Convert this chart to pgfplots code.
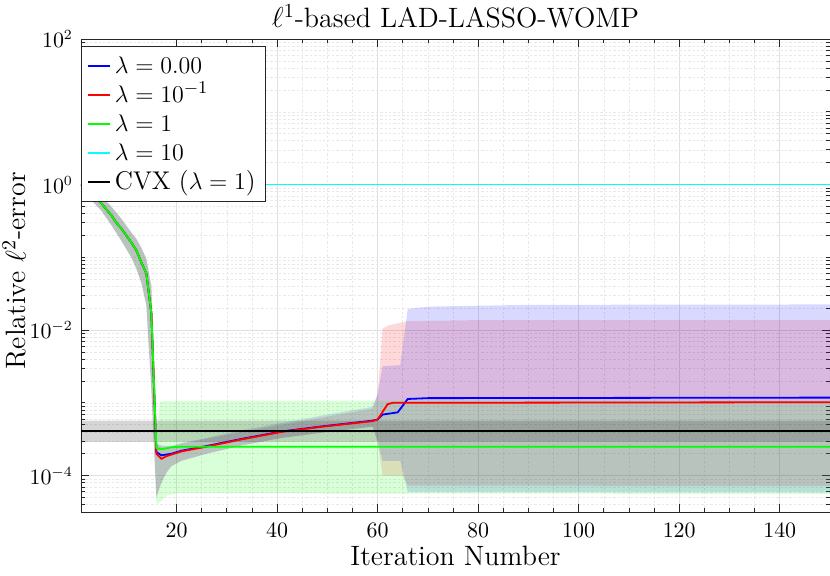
\documentclass[border=0pt]{standalone}
\usepackage{pgfplots}
\pgfplotsset{compat=1.18}
\definecolor{myblue}{rgb}{0,0,1}
\definecolor{myred}{rgb}{1,0,0}
\definecolor{mygreen}{rgb}{0,1,0}
\definecolor{mycyan}{rgb}{0,1,1}
\definecolor{myblack}{rgb}{0,0,0}
\definecolor{axgray}{rgb}{0.15,0.15,0.15}
\begin{document}
\begin{tikzpicture}
\path[use as bounding box] (-40.5pt,-32pt) rectangle (374.5pt,256pt);
\begin{axis}[
  scale only axis, width=374.5pt, height=236.5pt,
  at={(0,0)}, anchor=south west,
  ymode=log, xmin=1, xmax=150, ymin=3.162e-5, ymax=100,
  xtick={20,40,...,140}, minor x tick num=3,
  ytick={1e-4,1e-2,1,100},
  minor ytick={4e-5,5e-5,6e-5,7e-5,8e-5,9e-5,2e-4,3e-4,4e-4,5e-4,6e-4,7e-4,8e-4,9e-4,1e-3,2e-3,3e-3,4e-3,5e-3,6e-3,7e-3,8e-3,9e-3,2e-2,3e-2,4e-2,5e-2,6e-2,7e-2,8e-2,9e-2,0.1,0.2,0.3,0.4,0.5,0.6,0.7,0.8,0.9,2,3,4,5,6,7,8,9,10,20,30,40,50,60,70,80,90},
  grid=both,
  major grid style={black!12, line width=0.3pt},
  minor grid style={black!9, dash pattern=on 1.2pt off 1pt, line width=0.25pt},
  tick align=inside, major tick length=3.8pt, minor tick length=2pt,
  tick style={axgray, line width=0.35pt},
  axis line style={axgray, line width=0.4pt},
  xticklabel style={font=\fontsize{10.5}{12}\selectfont, anchor=base, yshift=-13pt},
  yticklabel style={font=\fontsize{10.5}{12}\selectfont, xshift=-0.5pt},
  title={$\ell^1$-based LAD-LASSO-WOMP},
  title style={at={(axis description cs:0.5,1.0233)}, anchor=base, yshift=-6pt, font=\fontsize{14}{16}\selectfont},
  xlabel={Iteration Number},
  xlabel style={at={(axis description cs:0.5,-0.114)}, anchor=base, font=\fontsize{14}{16}\selectfont},
  ylabel={Relative $\ell^2$-error},
  ylabel style={at={(axis description cs:-0.0735,0.51)}, anchor=base, font=\fontsize{14}{16}\selectfont},
  legend style={at={(axis description cs:0,0.985)}, anchor=north west, draw=axgray, fill=white,
    font=\fontsize{12.8}{14}\selectfont, inner xsep=3pt, inner ysep=2.5pt, row sep=0pt},
  legend cell align=left,
  legend image code/.code={\draw[line width=0.8pt,#1] (0pt,0pt) -- (11pt,0pt);},
  /tikz/every odd column/.append style={text height=9pt, text depth=3.3pt},
  /tikz/every even column/.append style={text height=9pt, text depth=3.3pt, inner sep=1.3pt},
]
% ---- legend images ----
\addlegendimage{draw=myblue}
\addlegendentry{$\lambda = 0.00$}
\addlegendimage{draw=myred}
\addlegendentry{$\lambda = 10^{-1}$}
\addlegendimage{draw=mygreen}
\addlegendentry{$\lambda = 1$}
\addlegendimage{draw=mycyan}
\addlegendentry{$\lambda = 10$}
\addlegendimage{draw=myblack}
\addlegendentry{CVX ($\lambda = 1$)}
% ---- bands ----
% red band (lambda = 0.1)
\addplot[draw=none, fill=myred, fill opacity=0.15, forget plot] coordinates {
(1,1.02) (3,0.85) (5,0.70) (7,0.50) (9,0.34) (11,0.22) (12,0.18) (13,0.135) (14,0.095) (15,0.04)
(16,2.7e-4) (17,2.5e-4) (19,2.5e-4) (21,2.75e-4) (26,3.2e-4) (33,4.0e-4) (41,5.0e-4) (49,6.3e-4) (59,8.3e-4)
(60,1.3e-3) (61,0.0105) (62,0.0115) (66,0.0133) (80,0.0137) (150,0.0138)
(150,7.2e-5) (66,7.3e-5) (65,1.0e-4) (61,1.0e-4) (60,3.0e-4) (59,4.7e-4) (49,3.9e-4) (41,3.3e-4) (33,2.6e-4)
(26,2.0e-4) (21,1.6e-4) (19,1.35e-4) (18,1.1e-4) (17,8e-5) (16,5e-5)
(15,0.0015) (14,0.022) (13,0.045) (12,0.07) (11,0.10) (9,0.17) (7,0.28) (5,0.44) (3,0.62) (1,0.97) (1,1.02)};
% blue band (lambda = 0)
\addplot[draw=none, fill=myblue, fill opacity=0.15, forget plot] coordinates {
(1,1.02) (3,0.85) (5,0.70) (7,0.50) (9,0.34) (11,0.22) (12,0.18) (13,0.135) (14,0.095) (15,0.04)
(16,2.8e-4) (17,2.6e-4) (19,2.55e-4) (21,2.8e-4) (26,3.3e-4) (33,4.2e-4) (41,5.3e-4) (49,6.7e-4) (59,8.8e-4)
(60,1.3e-3) (61,3.2e-3) (64.5,3.3e-3) (66,0.0195) (70,0.021) (90,0.0222) (150,0.0225)
(150,5.9e-5) (66,6.0e-5) (64.5,1.6e-4) (61,1.6e-4) (60,3.0e-4) (59,4.7e-4) (49,3.9e-4) (41,3.3e-4) (33,2.6e-4)
(26,2.0e-4) (21,1.6e-4) (19,1.35e-4) (18,1.1e-4) (17,8e-5) (16,5e-5)
(15,0.0015) (14,0.022) (13,0.045) (12,0.07) (11,0.10) (9,0.17) (7,0.28) (5,0.44) (3,0.62) (1,0.97) (1,1.02)};
% green band (lambda = 1)
\addplot[draw=none, fill=mygreen, fill opacity=0.15, forget plot] coordinates {
(1,1.02) (3,0.85) (5,0.70) (7,0.50) (9,0.34) (11,0.22) (12,0.18) (13,0.135) (14,0.095) (15,0.04)
(16,3.0e-4) (16.7,1.05e-3) (20,1.07e-3) (150,1.07e-3)
(150,5.6e-5) (20,5.7e-5) (18,5.3e-5) (17,4.5e-5) (16,4e-5)
(15,0.0015) (14,0.022) (13,0.045) (12,0.07) (11,0.10) (9,0.17) (7,0.28) (5,0.44) (3,0.62) (1,0.97) (1,1.02)};
% CVX band
\addplot[draw=none, fill=myblack, fill opacity=0.16, forget plot] coordinates {
(1,5.7e-4) (150,5.7e-4) (150,2.9e-4) (1,2.9e-4) (1,5.7e-4)};
% ---- lines ----
\addplot[draw=myblue, line width=0.9pt, forget plot] coordinates {
(1,1.0) (2,0.83) (3,0.74) (4,0.67) (5,0.56) (6,0.46) (7,0.38) (8,0.30) (9,0.25) (10,0.20) (11,0.16) (12,0.125) (13,0.085) (14,0.060) (15,0.017)
(16,2.1e-4) (17,1.9e-4) (19,2.0e-4) (21,2.2e-4) (26,2.55e-4) (33,3.2e-4) (41,4.05e-4) (49,4.75e-4) (59,5.7e-4) (60,5.9e-4) (61,6.9e-4) (64,7.4e-4) (66,1.13e-3) (70,1.16e-3) (150,1.18e-3)};
\addplot[draw=myred, line width=0.9pt, forget plot] coordinates {
(1,1.0) (2,0.83) (3,0.74) (4,0.67) (5,0.56) (6,0.46) (7,0.38) (8,0.30) (9,0.25) (10,0.20) (11,0.16) (12,0.125) (13,0.085) (14,0.060) (15,0.017)
(16,2.0e-4) (17,1.7e-4) (18,1.85e-4) (19,1.95e-4) (21,2.15e-4) (26,2.5e-4) (33,3.15e-4) (41,4.0e-4) (49,4.7e-4) (59,5.6e-4) (60,5.9e-4) (62,9.6e-4) (63,1.0e-3) (150,1.02e-3)};
\addplot[draw=mygreen, line width=0.9pt, forget plot] coordinates {
(1,1.0) (2,0.83) (3,0.74) (4,0.67) (5,0.56) (6,0.46) (7,0.38) (8,0.30) (9,0.25) (10,0.20) (11,0.16) (12,0.125) (13,0.085) (14,0.060) (15,0.017)
(16,2.4e-4) (17,2.3e-4) (19,2.45e-4) (21,2.5e-4) (150,2.5e-4)};
\addplot[draw=mycyan, line width=0.9pt, forget plot] coordinates {(1,1.0) (150,1.0)};
\addplot[draw=myblack, line width=0.9pt, forget plot] coordinates {(1,4.07e-4) (150,4.07e-4)};
\end{axis}
\end{tikzpicture}
\end{document}
